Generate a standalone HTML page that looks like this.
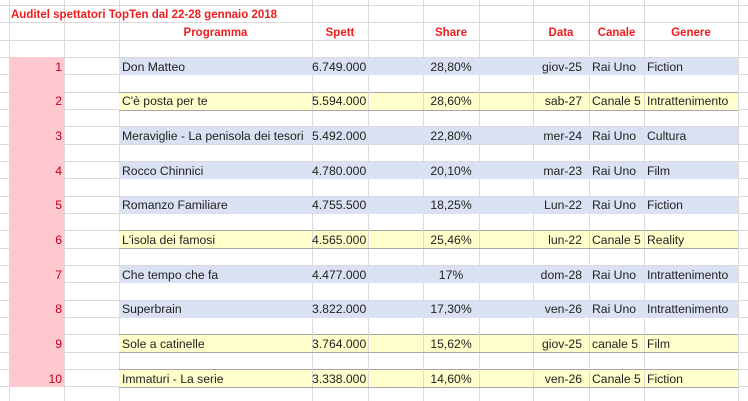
<!DOCTYPE html>
<html><head><meta charset="utf-8"><style>
body{margin:0;width:748px;height:401px;background:#fff;position:relative;overflow:hidden;font-family:"Liberation Sans",sans-serif;font-size:12.2px;color:#222}
.a{position:absolute}
.t{position:absolute;white-space:nowrap;line-height:17px}
.h{color:#f21c1c;font-weight:bold;font-size:11.5px}
</style></head><body>
<div id="r"></div>
<script>
var R=document.getElementById('r'),H='';
function d(s){H+=s;}
var rh=17.33,y0=5;
var vx=[9,64,119,312,368,423,479,533,589,644,738];
var data=[
["Don Matteo","6.749.000","28,80%","giov-25","Rai Uno","Fiction",0],
["C'è posta per te","5.594.000","28,60%","sab-27","Canale 5","Intrattenimento",1],
["Meraviglie - La penisola dei tesori","5.492.000","22,80%","mer-24","Rai Uno","Cultura",0],
["Rocco Chinnici","4.780.000","20,10%","mar-23","Rai Uno","Film",0],
["Romanzo Familiare","4.755.500","18,25%","Lun-22","Rai Uno","Fiction",0],
["L'isola dei famosi","4.565.000","25,46%","lun-22","Canale 5","Reality",1],
["Che tempo che fa","4.477.000","17%","dom-28","Rai Uno","Intrattenimento",0],
["Superbrain","3.822.000","17,30%","ven-26","Rai Uno","Intrattenimento",0],
["Sole a catinelle","3.764.000","15,62%","giov-25","canale 5","Film",1],
["Immaturi - La serie","3.338.000","14,60%","ven-26","Canale 5","Fiction",1]];
for(var i=0;i<23;i++){var y=Math.round(y0+i*rh);d('<div class="a" style="left:0;top:'+y+'px;width:748px;height:1px;background:#dadada"></div>');}
vx.forEach(function(x){d('<div class="a" style="left:'+x+'px;top:0;width:1px;height:401px;background:#dadada"></div>');});
data.forEach(function(r,i){var t=Math.round(57+i*34.67);
 d('<div class="a" style="left:119px;top:'+(t+1)+'px;width:619px;height:17px;background:'+(r[6]?'#ffffcc':'#d9e1f2')+'"></div>');
 if(r[6]){d('<div class="a" style="left:119px;top:'+t+'px;width:619px;height:1px;background:#a6a6a6"></div><div class="a" style="left:119px;top:'+(t+18)+'px;width:619px;height:1px;background:#a6a6a6"></div>');
  [312,368,423,479,533,589,644].forEach(function(x){d('<div class="a" style="left:'+x+'px;top:'+t+'px;width:1px;height:18px;background:#dadada"></div>');});}
});
d('<div class="a" style="left:10px;top:57px;width:54px;height:330px;background:#ffc7ce"></div>');
d('<div class="t h" style="left:11px;top:7px">Auditel spettatori TopTen dal 22-28 gennaio 2018</div>');
function c(txt,l,w,t,al,cls){d('<div class="t '+(cls||'')+'" style="left:'+l+'px;width:'+w+'px;top:'+t+'px;text-align:'+al+'">'+txt+'</div>');}
var hy=24.5;
c('Programma',119,193,hy,'center','h');c('Spett',312,56,hy,'center','h');c('Share',423,56,hy,'center','h');
c('Data',533,56,hy,'center','h');c('Canale',589,55,hy,'center','h');c('Genere',644,94,hy,'center','h');
data.forEach(function(r,i){var t=57+i*34.67+1.5;
 d('<div class="t" style="left:10px;width:52px;top:'+t+'px;text-align:right;color:#c0001c">'+(i+1)+'</div>');
 c(r[0],122,190,t,'left');c(r[1],312,53,t,'right');c(r[2],423,56,t,'center');
 c(r[3],533,49,t,'right');c(r[4],592,55,t,'left');c(r[5],647,95,t,'left');});
R.innerHTML=H;
</script>
</body></html>
